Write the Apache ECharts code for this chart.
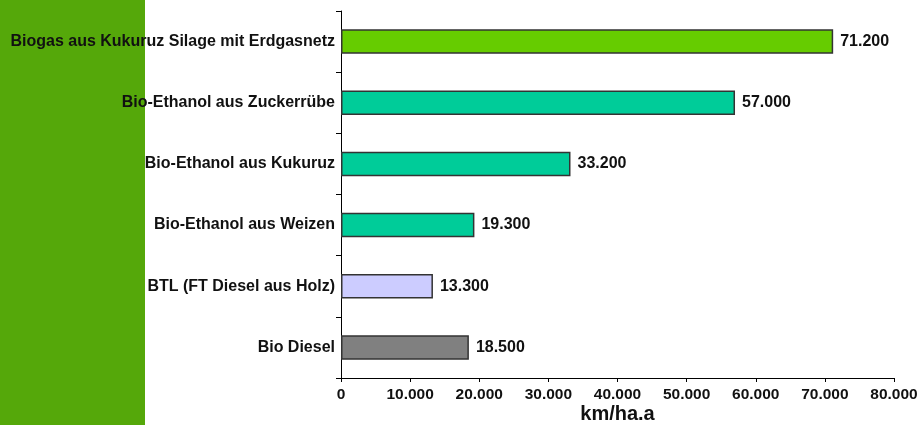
<!DOCTYPE html>
<html><head><meta charset="utf-8">
<script src="https://cdn.jsdelivr.net/npm/echarts@6/dist/echarts.min.js"></script>
<style>html,body{margin:0;padding:0;background:#fff}#c{width:923px;height:425px}</style>
</head><body><div id="c"></div>
<script>
const categories = ["Biogas aus Kukuruz Silage mit Erdgasnetz","Bio-Ethanol aus Zuckerrübe","Bio-Ethanol aus Kukuruz","Bio-Ethanol aus Weizen","BTL (FT Diesel aus Holz)","Bio Diesel"];
const values = [71200, 57000, 33200, 19300, 13300, 18500];
const barColors = ["#66CC00","#00CC99","#00CC99","#00CC99","#CCCCFF","#808080"];
const xTicks = [0,10000,20000,30000,40000,50000,60000,70000,80000];
const axisName = "km/ha.a";

function fmt(v){ return v===0 ? "0" : String(v).replace(/\B(?=(\d{3})+(?!\d))/g, "."); }

const chart = echarts.init(document.getElementById('c'));
chart.setOption({
  animation:false,
  textStyle:{fontFamily:'Liberation Sans, Arial, sans-serif'},
  graphic:[{type:'rect', z:-10, shape:{x:0,y:0,width:145,height:425}, style:{fill:'#55A80A'}}],
  grid:{left:341,right:29,top:11,bottom:47,containLabel:false,outerBoundsMode:'none'},
  xAxis:{type:'value',min:xTicks[0],max:xTicks[xTicks.length-1],interval:10000,
    axisLine:{show:true,lineStyle:{color:'#000',width:1}},
    axisTick:{show:true,length:4,lineStyle:{color:'#000'}},
    splitLine:{show:false},
    axisLabel:{formatter:fmt,color:'#111',fontWeight:'bold',fontSize:15.5,margin:9},
    name:axisName,nameLocation:'middle',nameGap:26,nameMoveOverlap:false,
    nameTextStyle:{color:'#111',fontWeight:'bold',fontSize:20}},
  yAxis:{type:'category',inverse:true,data:categories,
    axisLine:{show:true,lineStyle:{color:'#000',width:1}},
    axisTick:{show:true,length:5,lineStyle:{color:'#000'}},
    axisLabel:{color:'#111',fontWeight:'bold',fontSize:16,margin:6}},
  series:[{type:'bar',barWidth:'40%',
    data:values.map((v,i)=>({value:v,itemStyle:{color:barColors[i]}})),
    itemStyle:{borderColor:'#333',borderWidth:1.5},
    label:{show:true,position:'right',distance:7,formatter:p=>fmt(p.value),color:'#111',fontWeight:'bold',fontSize:16}}]
});
</script></body></html>
